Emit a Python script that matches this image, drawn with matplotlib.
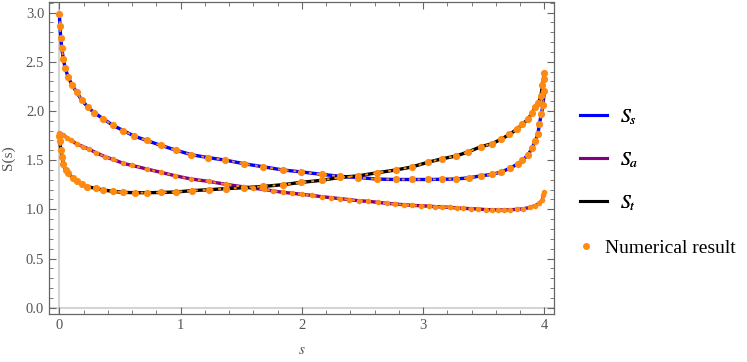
import matplotlib
matplotlib.use("Agg")
import matplotlib.pyplot as plt
from matplotlib.lines import Line2D
from matplotlib.ticker import MultipleLocator

plt.rcParams["font.family"] = ["Liberation Serif", "DejaVu Serif"]
plt.rcParams["mathtext.fontset"] = "stix"

# S_s (blue)
s_s = [0.0, 0.006, 0.012, 0.02, 0.033, 0.047, 0.074, 0.107, 0.143, 0.185, 0.234,
       0.289, 0.363, 0.44, 0.528, 0.616, 0.72, 0.837, 0.965, 1.09, 1.23, 1.37,
       1.524, 1.678, 1.843, 1.997, 2.165, 2.318, 2.467, 2.624, 2.778, 2.907,
       3.045, 3.16, 3.27, 3.38, 3.477, 3.57, 3.647, 3.72, 3.78, 3.82, 3.865,
       3.898, 3.925, 3.947, 3.96, 3.975, 3.99, 4.0]
S_s = [2.99, 2.86, 2.74, 2.64, 2.53, 2.44, 2.34, 2.26, 2.19, 2.11, 2.04,
       1.98, 1.92, 1.855, 1.80, 1.745, 1.70, 1.65, 1.60, 1.555, 1.525, 1.50,
       1.463, 1.433, 1.40, 1.38, 1.355, 1.335, 1.323, 1.307, 1.303, 1.303,
       1.303, 1.305, 1.308, 1.32, 1.34, 1.355, 1.38, 1.42, 1.46, 1.50, 1.55,
       1.62, 1.69, 1.765, 1.867, 1.965, 2.06, 2.2]

# S_a (purple)
s_a = [0.0, 0.033, 0.061, 0.094, 0.143, 0.198, 0.248, 0.303, 0.377, 0.44,
       0.528, 0.597, 0.72, 0.837, 0.955, 1.087, 1.235, 1.373, 1.518, 1.6,
       1.685, 1.766, 1.843, 1.923, 2.0, 2.082, 2.165, 2.242, 2.318, 2.393,
       2.47, 2.55, 2.627, 2.70, 2.77, 2.84, 2.913, 2.984, 3.05, 3.10, 3.16,
       3.224, 3.279, 3.333, 3.394, 3.457, 3.518, 3.57, 3.62, 3.664, 3.72,
       3.774, 3.828, 3.883, 3.925, 3.96, 3.983, 3.993, 3.999]
S_a = [1.78, 1.755, 1.728, 1.704, 1.664, 1.636, 1.61, 1.575, 1.535, 1.508,
       1.467, 1.447, 1.41, 1.376, 1.341, 1.308, 1.283, 1.254, 1.228, 1.213,
       1.203, 1.186, 1.173, 1.163, 1.152, 1.142, 1.128, 1.118, 1.108, 1.098,
       1.087, 1.081, 1.071, 1.061, 1.054, 1.047, 1.04, 1.036, 1.032, 1.027,
       1.024, 1.02, 1.013, 1.01, 1.006, 1.003, 0.997, 0.995, 0.994, 0.994,
       0.995, 1.0, 1.005, 1.02, 1.037, 1.061, 1.095, 1.145, 1.179]

# S_t (black)
s_t = [0.0, 0.005, 0.012, 0.025, 0.033, 0.053, 0.074, 0.11, 0.149, 0.185,
       0.231, 0.30, 0.363, 0.44, 0.528, 0.622, 0.72, 0.837, 0.963, 1.095,
       1.233, 1.373, 1.524, 1.678, 1.843, 1.997, 2.165, 2.318, 2.467, 2.624,
       2.778, 2.907, 3.045, 3.16, 3.273, 3.375, 3.477, 3.57, 3.647, 3.713,
       3.774, 3.82, 3.865, 3.898, 3.925, 3.952, 3.972, 3.985, 3.995, 4.0]
S_t = [1.75, 1.69, 1.60, 1.535, 1.457, 1.40, 1.366, 1.32, 1.288, 1.257,
       1.23, 1.213, 1.196, 1.183, 1.172, 1.169, 1.169, 1.171, 1.176, 1.19,
       1.199, 1.21, 1.22, 1.232, 1.25, 1.274, 1.295, 1.325, 1.34, 1.372,
       1.40, 1.43, 1.48, 1.514, 1.542, 1.585, 1.636, 1.667, 1.714, 1.762,
       1.813, 1.864, 1.915, 1.975, 2.037, 2.083, 2.15, 2.26, 2.32, 2.39]

dot_color = "#ff8a12"
axis_gray = "#666666"

fig = plt.figure(figsize=(7.47, 3.62), dpi=100)
ax = fig.add_axes([0.0656, 0.1326, 0.6760, 0.8619])

ax.axhline(0, color="#d4d4d4", lw=1.5, zorder=0)
ax.axvline(0, color="#d4d4d4", lw=1.5, zorder=0)

curves = [(s_s, S_s, "blue", 5.2), (s_a, S_a, "purple", 4.0), (s_t, S_t, "black", 5.2)]
for s, val, col, ms in curves:
    ax.plot(s, val, color=col, lw=2.4, solid_capstyle="butt", zorder=2)
    ax.plot(s, val, color=dot_color, lw=1.4, dashes=(1.5, 2.5), zorder=3)
    ax.plot(s, val, "o", color=dot_color, ms=ms, mec="none", zorder=4)

ax.set_xlim(-0.085, 4.08)
ax.set_ylim(-0.064, 3.107)
ax.xaxis.set_major_locator(MultipleLocator(1))
ax.xaxis.set_minor_locator(MultipleLocator(0.2))
ax.yaxis.set_major_locator(MultipleLocator(0.5))
ax.yaxis.set_minor_locator(MultipleLocator(0.1))
ax.yaxis.set_major_formatter(matplotlib.ticker.FormatStrFormatter("%.1f"))

ax.tick_params(which="both", direction="in", top=True, right=True,
               color=axis_gray, labelcolor="#555555", labelsize=10.5)
ax.tick_params(which="major", length=5, width=0.8)
ax.tick_params(which="minor", length=3, width=0.6)
for sp in ax.spines.values():
    sp.set_color(axis_gray)
    sp.set_linewidth(0.9)

ax.set_xlabel("$s$", color="#555555", fontsize=11, labelpad=9)
ax.set_ylabel("S(s)", color="#555555", fontsize=11, labelpad=8)

# legend: the three curves, then the points entry set a bit to the left
line_handles = [Line2D([], [], color=c, lw=2.2) for c in ["blue", "purple", "black"]]
leg1 = fig.legend(line_handles, ["$S_s$", "$S_a$", "$S_t$"], loc="center left",
                  bbox_to_anchor=(0.7764, 0.558), frameon=False, fontsize=14,
                  handlelength=1.39, handletextpad=0.67, labelspacing=1.2,
                  borderpad=0, borderaxespad=0)
dot_handle = Line2D([], [], color=dot_color, marker="o", ls="none", ms=5, mec="none")
fig.legend([dot_handle], ["Numerical result"], loc="center left",
           bbox_to_anchor=(0.7767, 0.315), frameon=False, fontsize=14,
           handlelength=0.6, handletextpad=0.68, borderpad=0, borderaxespad=0)
fig.add_artist(leg1)

fig.savefig("out.png", dpi=100)
